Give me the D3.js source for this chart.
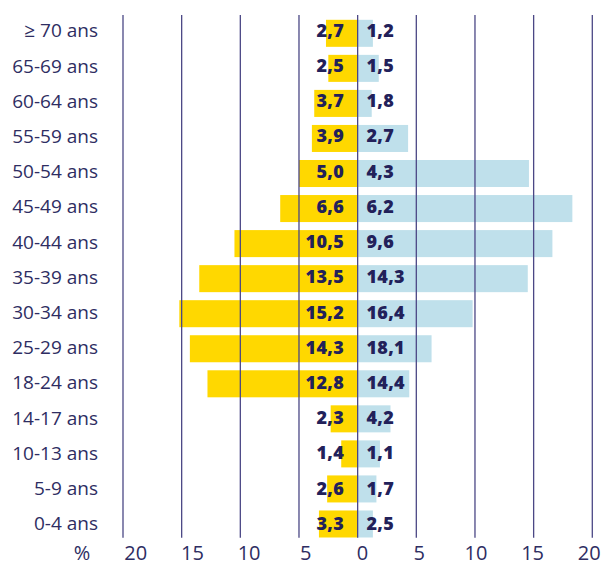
<!DOCTYPE html>
<html>
<head>
<meta charset="utf-8">
<script src="https://cdn.jsdelivr.net/npm/d3@7"></script>
<style>
  body { margin: 0; background: #fff; }
  svg { display: block; font-family: "Open Sans", sans-serif; }
</style>
</head>
<body>
<svg id="pyramid" width="601" height="562"></svg>
<script>
// Age groups, top to bottom
const ageGroups = ["≥ 70 ans", "65-69 ans", "60-64 ans", "55-59 ans", "50-54 ans", "45-49 ans",
  "40-44 ans", "35-39 ans", "30-34 ans", "25-29 ans", "18-24 ans", "14-17 ans",
  "10-13 ans", "5-9 ans", "0-4 ans"];

// left side (yellow) : printed values and bar lengths
const leftValues = [2.7, 2.5, 3.7, 3.9, 5.0, 6.6, 10.5, 13.5, 15.2, 14.3, 12.8, 2.3, 1.4, 2.6, 3.3];

// right side (blue) : printed values
const rightLabels = [1.2, 1.5, 1.8, 2.7, 4.3, 6.2, 9.6, 14.3, 16.4, 18.1, 14.4, 4.2, 1.1, 1.7, 2.5];
// right side bar lengths as drawn in the picture
const rightBars = [1.3, 1.8, 1.2, 4.3, 14.6, 18.3, 16.6, 14.5, 9.8, 6.3, 4.4, 2.8, 1.9, 1.6, 1.3];

const gridValues = [-20, -15, -10, -5, 0, 5, 10, 15, 20];
const tickLabels = ["20", "15", "10", "5", "0", "5", "10", "15", "20"];
const unitLabel = "%";

const svg = d3.select("svg#pyramid");
const fmt = v => v.toFixed(1).replace(".", ",");

// Scales
const xScale = d3.scaleLinear()
  .domain([-20, 20])
  .range([123, 592.3]);

const yScale = d3.scaleBand()
  .domain(ageGroups)
  .range([15.6, 541.7])
  .paddingInner(0.229)
  .paddingOuter(0.12);

const labelY = d3.scalePoint()
  .domain(ageGroups)
  .range([30.5, 523.5]);

const tickX = d3.scalePoint()
  .domain(d3.range(tickLabels.length))
  .range([135.7, 589.3]);

const yellow = "#ffd800";
const blue = "#bfe0eb";
const ink = "#22215a";
const lineColor = "#4b4785";

// Bars
svg.append("g").selectAll("rect.left")
  .data(ageGroups)
  .enter()
  .append("rect")
  .attr("class", "left")
  .attr("x", (d, i) => xScale(-leftValues[i]))
  .attr("y", d => yScale(d))
  .attr("width", (d, i) => xScale(0) - xScale(-leftValues[i]))
  .attr("height", yScale.bandwidth())
  .style("fill", yellow);

svg.append("g").selectAll("rect.right")
  .data(ageGroups)
  .enter()
  .append("rect")
  .attr("class", "right")
  .attr("x", xScale(0))
  .attr("y", d => yScale(d))
  .attr("width", (d, i) => xScale(rightBars[i]) - xScale(0))
  .attr("height", yScale.bandwidth())
  .style("fill", blue);

// Grid lines on top of the bars
svg.append("g").selectAll("line.grid")
  .data(gridValues)
  .enter()
  .append("line")
  .attr("class", "grid")
  .attr("x1", d => xScale(d))
  .attr("x2", d => xScale(d))
  .attr("y1", 15)
  .attr("y2", 537.7)
  .style("stroke", lineColor)
  .style("stroke-width", 1.3);

// Category labels
svg.append("g").selectAll("text.cat")
  .data(ageGroups)
  .enter()
  .append("text")
  .attr("class", "cat")
  .attr("x", 98)
  .attr("y", d => labelY(d) + 6.8)
  .attr("text-anchor", "end")
  .style("font-size", "19px")
  .style("fill", "#2e2d62")
  .text(d => d);

// Value labels
svg.append("g").selectAll("text.lv")
  .data(ageGroups)
  .enter()
  .append("text")
  .attr("class", "lv")
  .attr("x", 344)
  .attr("y", d => labelY(d) + 6.3)
  .attr("text-anchor", "end")
  .style("font-size", "18px")
  .style("font-weight", "800")
  .style("letter-spacing", "0.3px")
  .style("fill", ink)
  .text((d, i) => fmt(leftValues[i]));

svg.append("g").selectAll("text.rv")
  .data(ageGroups)
  .enter()
  .append("text")
  .attr("class", "rv")
  .attr("x", 366.5)
  .attr("y", d => labelY(d) + 6.3)
  .attr("text-anchor", "start")
  .style("font-size", "18px")
  .style("font-weight", "800")
  .style("letter-spacing", "0.3px")
  .style("fill", ink)
  .text((d, i) => fmt(rightLabels[i]));

// Bottom tick labels
svg.append("g").selectAll("text.tick")
  .data(tickLabels)
  .enter()
  .append("text")
  .attr("class", "tick")
  .attr("x", (d, i) => tickX(i))
  .attr("y", 560)
  .attr("text-anchor", "middle")
  .style("font-size", "20px")
  .style("fill", "#2e2d62")
  .text(d => d);

svg.append("text")
  .attr("x", 82)
  .attr("y", 560)
  .attr("text-anchor", "middle")
  .style("font-size", "20px")
  .style("fill", "#2e2d62")
  .text(unitLabel);
</script>
</body>
</html>
